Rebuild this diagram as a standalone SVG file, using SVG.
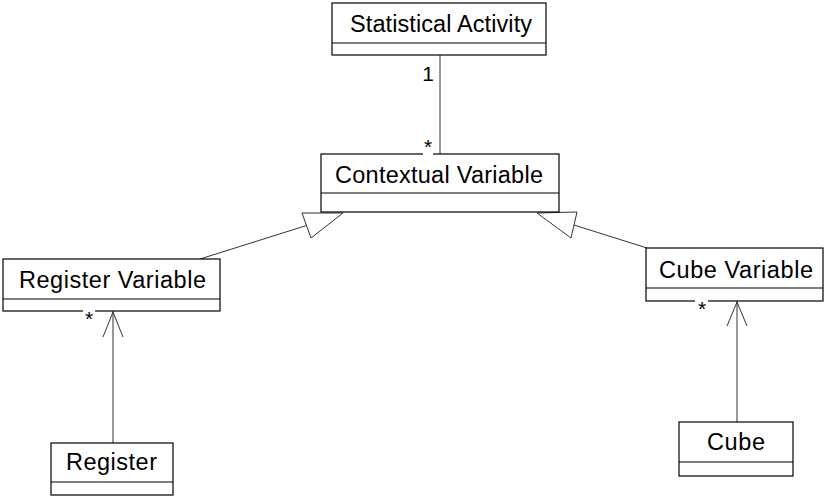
<svg xmlns="http://www.w3.org/2000/svg" width="826" height="500" viewBox="0 0 826 500">
<style>
.box{fill:#fff;stroke:#000;stroke-width:1.2}
.div{stroke:#000;stroke-width:1.2}
.lbl{font-family:"Liberation Sans",Arial,sans-serif;font-size:23.5px;fill:#000;text-anchor:middle}
.mult{font-family:"Liberation Sans",Arial,sans-serif;font-size:21px;fill:#000;text-anchor:middle}
.conn{stroke:#333;stroke-width:1;fill:none}
.gen{stroke:#333;stroke-width:1;fill:#fff}
</style>
<rect width="826" height="500" fill="#fff"/>
<g id="connectors">
  <line class="conn" x1="440" y1="55" x2="440" y2="154"/>
  <line class="conn" x1="200" y1="259" x2="306.5" y2="225.5"/>
  <polygon class="gen" points="343,213 302,213 311,238"/>
  <line class="conn" x1="574" y1="225" x2="647" y2="248"/>
  <polygon class="gen" points="537,213 577,212 571,238"/>
  <line class="conn" x1="113" y1="443" x2="113" y2="311"/>
  <polyline class="conn" points="103,337 113,312 123,337"/>
  <line class="conn" x1="737" y1="422" x2="737" y2="301"/>
  <polyline class="conn" points="727,326 737,302 747,326"/>
</g>
<g id="statistical-activity">
  <rect class="box" x="332" y="3" width="214" height="52"/>
  <line class="div" x1="332" y1="43" x2="546" y2="43"/>
  <text class="lbl" x="441" y="32" textLength="182" lengthAdjust="spacing">Statistical Activity</text>
</g>
<g id="contextual-variable">
  <rect class="box" x="321" y="154" width="238" height="58"/>
  <line class="div" x1="321" y1="193" x2="559" y2="193"/>
  <text class="lbl" x="439" y="183" textLength="208" lengthAdjust="spacing">Contextual Variable</text>
</g>
<g id="register-variable">
  <rect class="box" x="3" y="259" width="217" height="52"/>
  <line class="div" x1="3" y1="299" x2="220" y2="299"/>
  <text class="lbl" x="112.5" y="288" textLength="187" lengthAdjust="spacing">Register Variable</text>
</g>
<g id="cube-variable">
  <rect class="box" x="646" y="248" width="177" height="53"/>
  <line class="div" x1="646" y1="288" x2="823" y2="288"/>
  <text class="lbl" x="736" y="278" textLength="154" lengthAdjust="spacing">Cube Variable</text>
</g>
<g id="register">
  <rect class="box" x="51" y="443" width="122" height="52"/>
  <line class="div" x1="51" y1="482" x2="173" y2="482"/>
  <text class="lbl" x="111.5" y="470" textLength="91" lengthAdjust="spacing">Register</text>
</g>
<g id="cube">
  <rect class="box" x="679" y="422" width="114" height="54"/>
  <line class="div" x1="679" y1="462" x2="793" y2="462"/>
  <text class="lbl" x="736" y="450" textLength="58" lengthAdjust="spacing">Cube</text>
</g>
<g id="multiplicities">
  <text class="mult" x="428" y="81">1</text>
  <rect x="423" y="151" width="10" height="6" fill="#fff"/>
  <text class="mult" x="428" y="154">*</text>
  <rect x="83" y="308" width="12" height="6" fill="#fff"/>
  <text class="mult" x="89" y="326">*</text>
  <rect x="695" y="298" width="13" height="6" fill="#fff"/>
  <text class="mult" x="702" y="316">*</text>
</g>
</svg>
